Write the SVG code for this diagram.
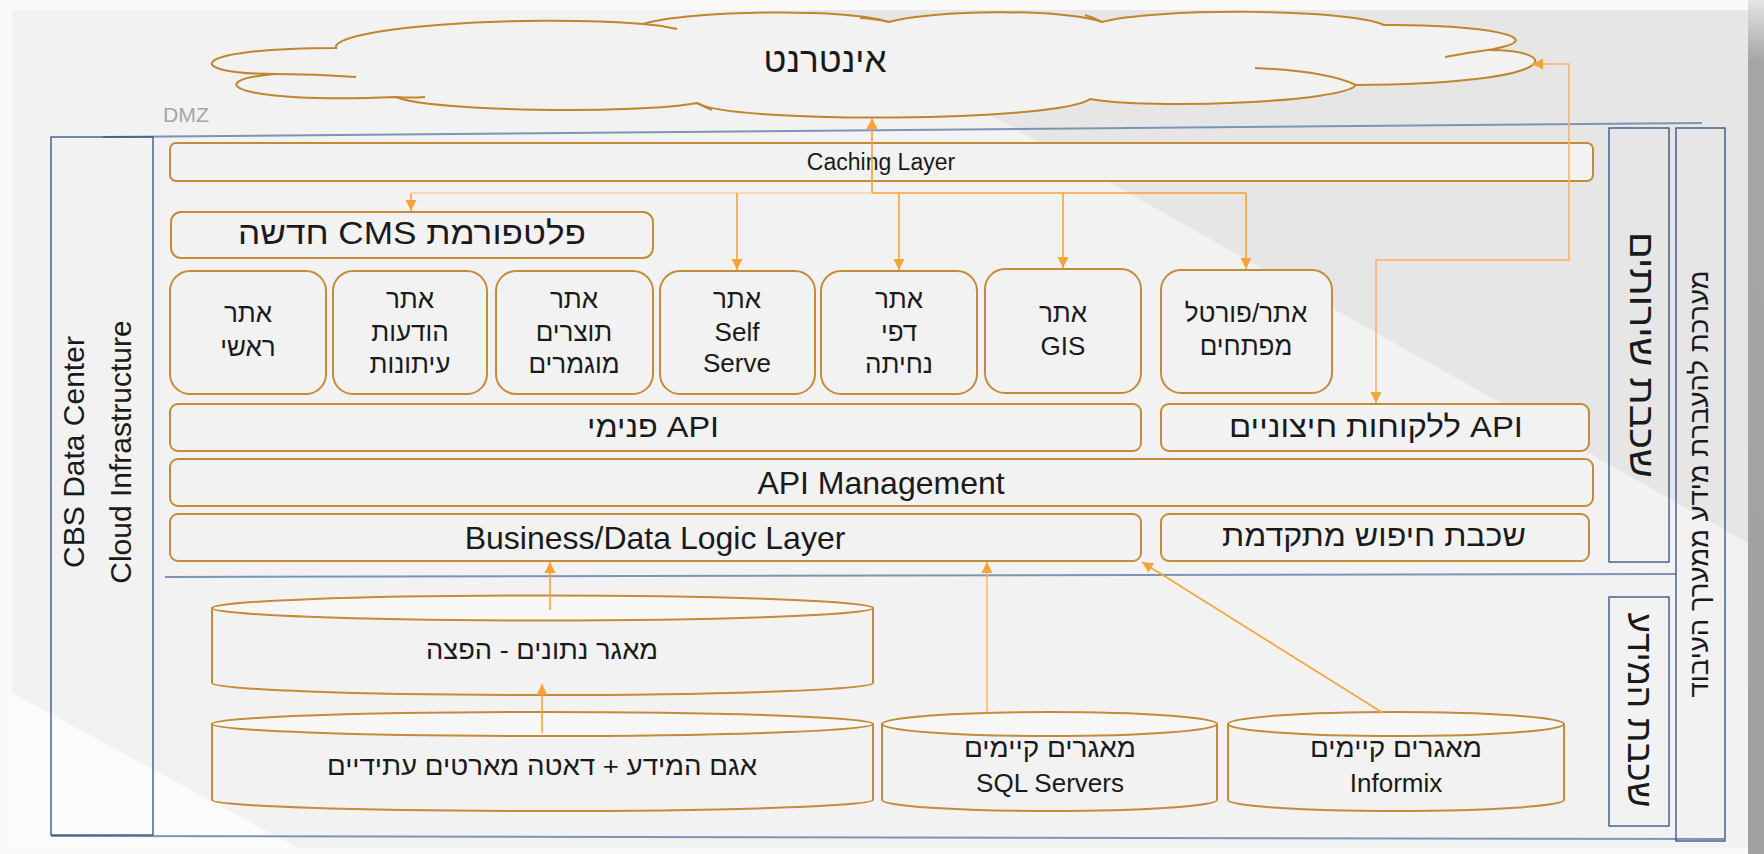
<svg xmlns="http://www.w3.org/2000/svg" width="1764" height="854" viewBox="0 0 1764 854">
  <defs>
    <style>
      .bx { fill: #f2f2f2; stroke: #c48b3a; stroke-width: 2; }
      .cyl { fill: #f2f2f2; stroke: #c48b3a; stroke-width: 2; }
      .cyltop { fill: #f7f7f7; stroke: #c48b3a; stroke-width: 2; }
      .frame { fill: none; stroke: #2f4f80; stroke-width: 1.3; }
      .sep { fill: none; stroke: #7f94b2; stroke-width: 2; }
      .t { font-family: "Liberation Sans", Arial, sans-serif; fill: #1a1a1a; text-anchor: middle; }
      .rtl { direction: rtl; unicode-bidi: embed; }
      .ln { fill: none; stroke: #f7a336; stroke-width: 1.6; }
      .pale { fill: none; stroke: #f9cfa0; stroke-width: 1.6; }
      .lite { fill: none; stroke: #fbb462; stroke-width: 1.6; }
    </style>
    <marker id="arr" viewBox="0 0 12 12" refX="11" refY="6" markerWidth="12" markerHeight="12" markerUnits="userSpaceOnUse" orient="auto-start-reverse">
      <path d="M0,0.5 L11,6 L0,11.5 z" fill="#f7a336"/>
    </marker>
    <linearGradient id="edge" x1="0" y1="0" x2="0" y2="1">
      <stop offset="0" stop-color="#e4e4e4"/>
      <stop offset="0.07" stop-color="#a6a6a6"/>
      <stop offset="1" stop-color="#a0a0a0"/>
    </linearGradient>
  </defs>

  <!-- slide background -->
  <rect x="0" y="0" width="1764" height="854" fill="#fafafa"/>
  <rect x="12" y="10" width="1736" height="838" fill="#f2f2f2"/>
  <polygon points="805,10 1748,10 1748,543" fill="#e6e6e6"/>
  <polygon points="12,693 298,848 12,848" fill="#fbfbfb"/>
  <rect x="1748" y="0" width="16" height="854" fill="url(#edge)"/>

  <!-- zone frames and separators -->
  <g id="zones">
    <line class="sep" x1="103" y1="137" x2="1702" y2="123"/>
    <line class="sep" x1="165" y1="577" x2="1676" y2="574"/>
    <line class="sep" x1="51" y1="836" x2="1724" y2="839"/>
    <text class="t" x="186" y="122" font-size="21" textLength="46" lengthAdjust="spacingAndGlyphs" style="fill:#a6a6a6">DMZ</text>
  </g>

  <g id="datacenter">
    <rect class="frame" x="51" y="137" width="102" height="698"/>
    <g transform="translate(0,452) rotate(-90)">
      <text class="t" x="0" y="84" font-size="30">CBS Data Center</text>
      <text class="t" x="0" y="131" font-size="30">Cloud Infrastructure</text>
    </g>
  </g>

  <g id="layer-services">
    <rect class="frame" x="1609" y="128" width="60" height="434"/>
    <text class="t rtl" transform="translate(1642,355) rotate(90)" x="0" y="12" font-size="35" textLength="246" lengthAdjust="spacingAndGlyphs">שכבת שירותים</text>
  </g>

  <g id="layer-data">
    <rect class="frame" x="1609" y="597" width="60" height="229"/>
    <text class="t rtl" transform="translate(1640,710) rotate(90)" x="0" y="12" font-size="35" textLength="195" lengthAdjust="spacingAndGlyphs">שכבת המידע</text>
  </g>

  <g id="transfer-system">
    <rect class="frame" x="1676" y="128" width="49" height="713"/>
    <text class="t rtl" transform="translate(1699,484) rotate(-90)" x="0" y="9" font-size="26" textLength="427" lengthAdjust="spacingAndGlyphs">מערכת להעברת מידע ממערך העיבוד</text>
  </g>

  <!-- internet cloud -->
  <g id="internet">
    <path d="M276,74 C180,74 185,48 336,48 C330,28 520,14 643,24 C690,10 850,8 889,22 C930,10 1065,8 1102,22 C1150,8 1350,8 1384,25 C1480,24 1560,38 1488,50 C1565,50 1565,84 1356,85 C1345,102 1150,110 1090,99 C1060,122 730,124 697,103 C640,114 430,112 396,97 C230,104 200,80 276,74 Z" fill="#f2f2f2" stroke="#c0852e" stroke-width="2"/>
    <path d="M276,74 Q316,74 356,77 M643,24 Q660,25 677,29 M889,22 Q876,19 860,18 M1102,22 Q1095,18 1085,15 M1488,50 Q1465,53 1445,57 M1356,85 C1335,75 1300,70 1255,68 M697,103 Q705,107 712,110 M396,97 Q410,98 425,97" fill="none" stroke="#c0852e" stroke-width="2"/>
    <text class="t rtl" x="825" y="72" font-size="35" textLength="123" lengthAdjust="spacingAndGlyphs">אינטרנט</text>
  </g>

  <g id="caching">
    <rect class="bx" x="170" y="143" width="1423" height="38" rx="6"/>
    <text class="t" x="881" y="170" font-size="23">Caching Layer</text>
  </g>

  <g id="cms">
    <rect class="bx" x="171" y="212" width="482" height="46" rx="10"/>
    <text class="t rtl" x="412" y="244" font-size="32" textLength="348" lengthAdjust="spacingAndGlyphs">פלטפורמת CMS חדשה</text>
  </g>

  <g id="site-main">
    <rect class="bx" x="170" y="271" width="156" height="123" rx="20"/>
    <text class="t rtl" x="248" y="322" font-size="26">אתר</text>
    <text class="t rtl" x="248" y="356" font-size="26">ראשי</text>
  </g>
  <g id="site-press">
    <rect class="bx" x="333" y="271" width="154" height="123" rx="20"/>
    <text class="t rtl" x="410" y="308" font-size="26">אתר</text>
    <text class="t rtl" x="410" y="341" font-size="26">הודעות</text>
    <text class="t rtl" x="410" y="373" font-size="26">עיתונות</text>
  </g>
  <g id="site-products">
    <rect class="bx" x="496" y="271" width="157" height="123" rx="20"/>
    <text class="t rtl" x="574" y="308" font-size="26">אתר</text>
    <text class="t rtl" x="574" y="341" font-size="26">תוצרים</text>
    <text class="t rtl" x="574" y="373" font-size="26">מוגמרים</text>
  </g>
  <g id="site-selfserve">
    <rect class="bx" x="660" y="271" width="155" height="123" rx="20"/>
    <text class="t rtl" x="737" y="308" font-size="26">אתר</text>
    <text class="t" x="737" y="341" font-size="26">Self</text>
    <text class="t" x="737" y="372" font-size="26">Serve</text>
  </g>
  <g id="site-landing">
    <rect class="bx" x="821" y="271" width="156" height="123" rx="20"/>
    <text class="t rtl" x="899" y="308" font-size="26">אתר</text>
    <text class="t rtl" x="899" y="341" font-size="26">דפי</text>
    <text class="t rtl" x="899" y="373" font-size="26">נחיתה</text>
  </g>
  <g id="site-gis">
    <rect class="bx" x="985" y="269" width="156" height="124" rx="20"/>
    <text class="t rtl" x="1063" y="322" font-size="26">אתר</text>
    <text class="t" x="1063" y="355" font-size="26">GIS</text>
  </g>
  <g id="site-devportal">
    <rect class="bx" x="1161" y="270" width="171" height="123" rx="20"/>
    <text class="t rtl" x="1246" y="322" font-size="26">אתר/פורטל</text>
    <text class="t rtl" x="1246" y="355" font-size="26">מפתחים</text>
  </g>

  <g id="api-internal">
    <rect class="bx" x="170" y="404" width="971" height="47" rx="8"/>
    <text class="t rtl" x="653" y="437" font-size="30" textLength="132" lengthAdjust="spacingAndGlyphs">API פנימי</text>
  </g>
  <g id="api-external">
    <rect class="bx" x="1161" y="404" width="428" height="47" rx="8"/>
    <text class="t rtl" x="1376" y="437" font-size="30" textLength="294" lengthAdjust="spacingAndGlyphs">API ללקוחות חיצוניים</text>
  </g>
  <g id="api-management">
    <rect class="bx" x="170" y="459" width="1423" height="47" rx="8"/>
    <text class="t" x="881" y="494" font-size="32">API Management</text>
  </g>
  <g id="business-layer">
    <rect class="bx" x="170" y="514" width="971" height="47" rx="8"/>
    <text class="t" x="655" y="549" font-size="32">Business/Data Logic Layer</text>
  </g>
  <g id="search-layer">
    <rect class="bx" x="1161" y="514" width="428" height="47" rx="8"/>
    <text class="t rtl" x="1374" y="546" font-size="30" textLength="304" lengthAdjust="spacingAndGlyphs">שכבת חיפוש מתקדמת</text>
  </g>

  <!-- data stores -->
  <g id="db-distribution">
    <path class="cyl" d="M212,608 L212,683 A330.5,12 0 0 0 873,683 L873,608 Z"/>
    <ellipse class="cyltop" cx="542.5" cy="608" rx="330.5" ry="12.5"/>
    <text class="t rtl" x="542" y="659" font-size="26" textLength="232" lengthAdjust="spacingAndGlyphs">מאגר נתונים - הפצה</text>
  </g>
  <g id="db-datalake">
    <path class="cyl" d="M212,724 L212,800 A330.5,11 0 0 0 873,800 L873,724 Z"/>
    <ellipse class="cyltop" cx="542.5" cy="724" rx="330.5" ry="12"/>
    <text class="t rtl" x="542" y="775" font-size="26" textLength="430" lengthAdjust="spacingAndGlyphs">אגם המידע + דאטה מארטים עתידיים</text>
  </g>
  <g id="db-sql">
    <path class="cyl" d="M882,724 L882,800 A167.5,11 0 0 0 1217,800 L1217,724 Z"/>
    <ellipse class="cyltop" cx="1049.5" cy="724" rx="167.5" ry="12"/>
    <text class="t rtl" x="1050" y="757" font-size="26" textLength="172" lengthAdjust="spacingAndGlyphs">מאגרים קיימים</text>
    <text class="t" x="1050" y="792" font-size="26">SQL Servers</text>
  </g>
  <g id="db-informix">
    <path class="cyl" d="M1228,724 L1228,800 A168,11 0 0 0 1564,800 L1564,724 Z"/>
    <ellipse class="cyltop" cx="1396" cy="724" rx="168" ry="12"/>
    <text class="t rtl" x="1396" y="757" font-size="26" textLength="172" lengthAdjust="spacingAndGlyphs">מאגרים קיימים</text>
    <text class="t" x="1396" y="792" font-size="26">Informix</text>
  </g>

  <!-- connectors -->
  <g id="connectors">
    <path class="pale" d="M411,193 H872"/>
    <path class="ln" d="M872,193 H1246"/>
    <path class="ln" d="M872,193 V118" marker-end="url(#arr)"/>
    <path class="ln" d="M411,193 V211" marker-end="url(#arr)"/>
    <path class="ln" d="M737,193 V270" marker-end="url(#arr)"/>
    <path class="ln" d="M899,193 V270" marker-end="url(#arr)"/>
    <path class="ln" d="M1063,193 V268" marker-end="url(#arr)"/>
    <path class="ln" d="M1246,193 V269" marker-end="url(#arr)"/>
    <path class="lite" d="M1376,403 V260 H1569 V64 H1532" marker-start="url(#arr)" marker-end="url(#arr)"/>
    <path class="ln" d="M550,610 V562" marker-end="url(#arr)"/>
    <path class="ln" d="M542,733 V684" marker-end="url(#arr)"/>
    <path class="lite" d="M987,713 V562" marker-end="url(#arr)"/>
    <path class="ln" d="M1383,713 L1142,562" marker-end="url(#arr)"/>
  </g>
</svg>
